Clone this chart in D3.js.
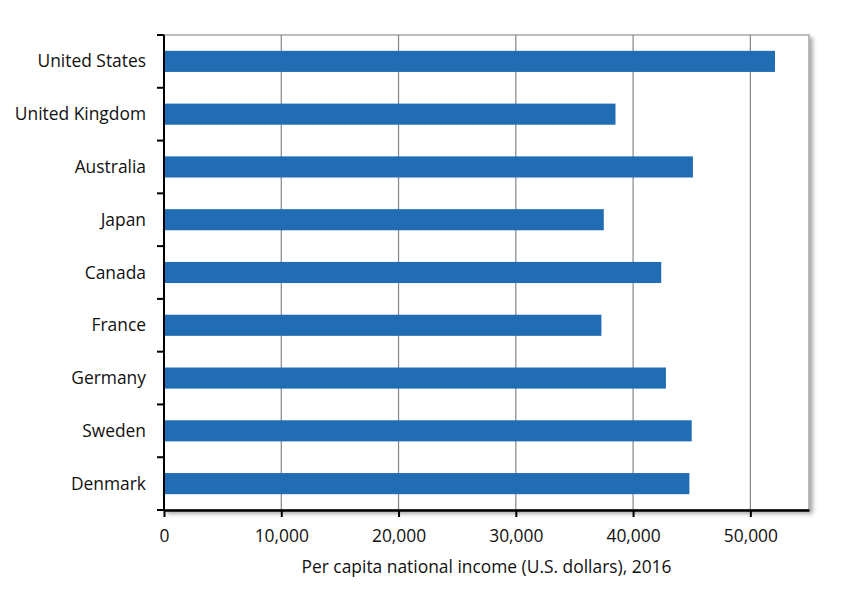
<!DOCTYPE html>
<html><head><meta charset="utf-8">
<script src="https://cdn.jsdelivr.net/npm/d3@7"></script>
<style>body{margin:0;background:#fff;}text{font-family:"Open Sans",sans-serif;}</style>
</head><body>
<svg id="c" width="863" height="589"></svg>
<script>
const countries = ["United States","United Kingdom","Australia","Japan","Canada","France","Germany","Sweden","Denmark"];
const incomes = [52100,38500,45100,37500,42400,37300,42800,45000,44800];
const xTicks = [0,10000,20000,30000,40000,50000];
const xTitle = "Per capita national income (U.S. dollars), 2016";

const svg = d3.select("#c");
const m = {l:164, r:809, t:35, b:510};
const x = d3.scaleLinear().domain([0,55000]).range([m.l,m.r]);
const y = d3.scaleBand().domain(countries).range([m.t,m.b]).paddingInner(0.6).paddingOuter(0.3);

const defs = svg.append("defs");
const f = defs.append("filter").attr("id","sh").attr("x","-5%").attr("y","-5%").attr("width","115%").attr("height","115%");
f.append("feDropShadow").attr("dx",3).attr("dy",3).attr("stdDeviation",2).attr("flood-color","#000").attr("flood-opacity",0.35);

svg.append("rect").attr("x",m.l).attr("y",m.t).attr("width",m.r-m.l).attr("height",m.b-m.t)
  .attr("fill","#fff").attr("stroke","#a6a6a6").attr("stroke-width",1.5).attr("filter","url(#sh)");

svg.append("g").selectAll("line").data(xTicks.slice(1)).join("line")
  .attr("x1",d=>x(d)).attr("x2",d=>x(d)).attr("y1",m.t).attr("y2",m.b)
  .attr("stroke","#858585").attr("stroke-width",1.2);

svg.append("g").selectAll("rect").data(countries).join("rect")
  .attr("x",x(0)).attr("y",d=>y(d)).attr("height",y.bandwidth())
  .attr("width",(d,i)=>x(incomes[i])-x(0)).attr("fill","#206db4");

// y axis: ticks at band boundaries
const step = (m.b-m.t)/countries.length;
const bounds = d3.range(countries.length+1).map(i=>m.t+i*step);
const ya = svg.append("g");
ya.append("line").attr("x1",m.l).attr("x2",m.l).attr("y1",m.t).attr("y2",m.b).attr("stroke","#000").attr("stroke-width",2);
ya.selectAll("line.t").data(bounds).join("line").attr("class","t")
  .attr("x1",m.l-7).attr("x2",m.l).attr("y1",d=>d).attr("y2",d=>d).attr("stroke","#000").attr("stroke-width",2);
ya.selectAll("text").data(countries).join("text")
  .attr("x",146).attr("y",d=>y(d)+y.bandwidth()/2).attr("dy","0.35em")
  .attr("text-anchor","end").attr("font-size",17.4).attr("fill","#111").text(d=>d);

const xa = svg.append("g").attr("transform",`translate(0,${m.b})`)
  .call(d3.axisBottom(x).tickValues(xTicks).tickSize(7).tickSizeOuter(0).tickFormat(d3.format(",")));
xa.select(".domain").attr("stroke","#000").attr("stroke-width",2.5);
xa.selectAll(".tick line").attr("stroke","#000").attr("stroke-width",2);
xa.selectAll(".tick text").attr("font-size",17.4).attr("fill","#111").attr("y",20).attr("font-family","Open Sans");

svg.append("text").attr("x",(m.l+m.r)/2).attr("y",573).attr("text-anchor","middle")
  .attr("font-size",17.4).attr("fill","#111").text(xTitle);
</script>
</body></html>
